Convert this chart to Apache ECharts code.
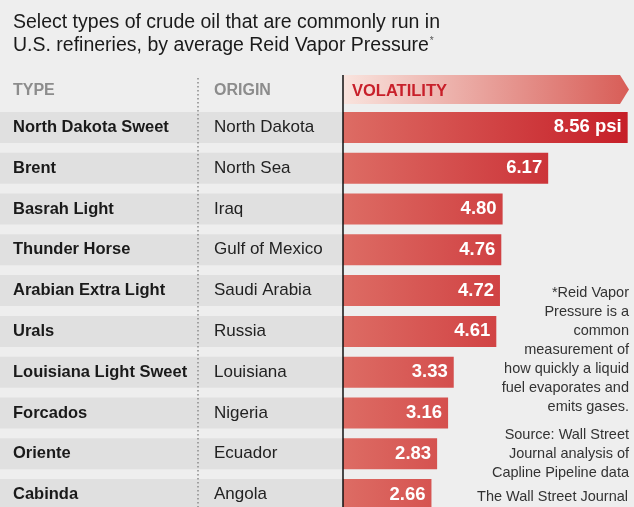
<!DOCTYPE html>
<html>
<head>
<meta charset="utf-8">
<script src="https://cdn.jsdelivr.net/npm/echarts@6/dist/echarts.min.js"></script>
<style>
  html, body { margin: 0; padding: 0; background: #eeeeee; }
  #chart { width: 634px; height: 507px; }
</style>
</head>
<body>
<div id="chart"></div>
<script>
const crudeTypes = [
  'North Dakota Sweet', 'Brent', 'Basrah Light', 'Thunder Horse', 'Arabian Extra Light',
  'Urals', 'Louisiana Light Sweet', 'Forcados', 'Oriente', 'Cabinda',
]
const origins = [
  'North Dakota', 'North Sea', 'Iraq', 'Gulf of Mexico', 'Saudi Arabia',
  'Russia', 'Louisiana', 'Nigeria', 'Ecuador', 'Angola',
]
const rvp = [8.56, 6.17, 4.80, 4.76, 4.72, 4.61, 3.33, 3.16, 2.83, 2.66]

const titleLines = ['Select types of crude oil that are commonly run in', 'U.S. refineries, by average Reid Vapor Pressure']
const noteLines = ['*Reid Vapor', 'Pressure is a', 'common', 'measurement of', 'how quickly a liquid', 'fuel evaporates and', 'emits gases.']
const sourceLines = ['Source: Wall Street', 'Journal analysis of', 'Capline Pipeline data']
const credit = 'The Wall Street Journal'

const FONT = '"Liberation Sans", Arial, sans-serif'
const AXIS_X = 343
const TOP = 107
const BOTTOM = -8 // last row runs off the bottom edge

// bars share one light-to-dark ramp, so short bars stay lighter at their tip
const LIGHT = [221, 108, 100]
const DARK = [198, 31, 40]
function mix(t) {
  const c = LIGHT.map((l, k) => Math.round(l + (DARK[k] - l) * t))
  return `rgb(${c.join(',')})`
}
const maxRvp = Math.max(...rvp)

const chart = echarts.init(document.getElementById('chart'), null, { renderer: 'canvas' })

chart.setOption({
  backgroundColor: '#eeeeee',
  animation: false,
  textStyle: { fontFamily: FONT },
  grid: [
    { left: 0, width: AXIS_X, top: TOP, bottom: BOTTOM, outerBoundsMode: 'none' },
    { left: AXIS_X, right: 5, top: TOP, bottom: BOTTOM, outerBoundsMode: 'none' },
  ],
  xAxis: [
    { gridIndex: 0, type: 'value', min: 0, max: 1, show: false },
    { gridIndex: 1, type: 'value', min: 0, max: 8.6, show: false },
  ],
  yAxis: [
    {
      gridIndex: 0,
      type: 'category',
      inverse: true,
      data: crudeTypes,
      z: 10,
      axisLine: { show: false },
      axisTick: { show: false },
      splitLine: { show: false },
      axisLabel: {
        inside: true,
        margin: 13,
        formatter: (v, i) => `{t|${v}}{o|${origins[i]}}`,
        rich: {
          t: { width: 201, fontFamily: FONT, fontSize: 16.5, fontWeight: 'bold', color: '#1a1a1a' },
          o: { fontFamily: FONT, fontSize: 17, color: '#222' },
        },
      },
    },
    {
      gridIndex: 1,
      type: 'category',
      inverse: true,
      data: crudeTypes,
      show: false,
    },
  ],
  series: [
    {
      // grey row bands behind the type / origin columns
      type: 'bar',
      xAxisIndex: 0,
      yAxisIndex: 0,
      data: crudeTypes.map(() => 0),
      barWidth: 31,
      silent: true,
      z: 0,
      showBackground: true,
      backgroundStyle: { color: '#e0e0e0' },
    },
    {
      name: 'Volatility',
      type: 'bar',
      xAxisIndex: 1,
      yAxisIndex: 1,
      barWidth: 31,
      data: rvp.map((v) => ({
        value: v,
        itemStyle: {
          color: new echarts.graphic.LinearGradient(0, 0, 1, 0, [
            { offset: 0, color: mix(0) },
            { offset: 1, color: mix(v / maxRvp) },
          ]),
        },
      })),
      label: {
        show: true,
        position: 'insideRight',
        distance: 6,
        color: '#fff',
        fontFamily: FONT,
        fontSize: 18.5,
        fontWeight: 'bold',
        formatter: (p) => (p.dataIndex === 0 ? `${p.value.toFixed(2)} psi` : p.value.toFixed(2)),
      },
    },
  ],
  graphic: [
    {
      type: 'text',
      left: 13,
      top: 13,
      style: {
        text: titleLines[0],
        font: `19.5px ${FONT}`,
        fill: '#1a1a1a',
      },
    },
    {
      type: 'text',
      left: 13,
      top: 36,
      style: {
        text: `{a|${titleLines[1]}}{s|*}`,
        rich: {
          a: { font: `19.5px ${FONT}`, fill: '#1a1a1a', verticalAlign: 'bottom' },
          s: { font: `10px ${FONT}`, fill: '#555', verticalAlign: 'top', padding: [0, 0, 10, 1] },
        },
      },
    },
    {
      type: 'polygon',
      shape: { points: [[AXIS_X, 75], [620, 75], [629, 89.5], [620, 104], [AXIS_X, 104]] },
      style: {
        fill: new echarts.graphic.LinearGradient(0, 0, 1, 0, [
          { offset: 0, color: '#f9e4de' },
          { offset: 1, color: '#d85d57' },
        ]),
      },
      z: 1,
    },
    {
      type: 'text',
      x: 352, y: 91,
      style: { text: 'VOLATILITY', font: `bold 16.5px ${FONT}`, fill: '#c8202a', textVerticalAlign: 'middle' },
      z: 2,
    },
    {
      type: 'text',
      x: 13, y: 91,
      style: { text: 'TYPE', font: `bold 16px ${FONT}`, fill: '#8c8c8c', textVerticalAlign: 'middle' },
    },
    {
      type: 'text',
      x: 214, y: 91,
      style: { text: 'ORIGIN', font: `bold 16px ${FONT}`, fill: '#8c8c8c', textVerticalAlign: 'middle' },
    },
    {
      type: 'line',
      shape: { x1: 198, y1: 78, x2: 198, y2: 507 },
      style: { stroke: '#8a8a8a', lineWidth: 1.5, lineDash: [1.5, 2.5] },
      z: 20,
    },
    {
      type: 'line',
      shape: { x1: AXIS_X, y1: 75, x2: AXIS_X, y2: 507 },
      style: { stroke: '#111', lineWidth: 1.5 },
      z: 20,
    },
    {
      type: 'text',
      x: 629, y: 283,
      style: {
        text: noteLines.join('\n'),
        font: `14.5px ${FONT}`,
        lineHeight: 19,
        fill: '#333',
        textAlign: 'right',
        textVerticalAlign: 'top',
      },
    },
    {
      type: 'text',
      x: 629, y: 425.5,
      style: {
        text: sourceLines.join('\n'),
        font: `14.5px ${FONT}`,
        lineHeight: 19,
        fill: '#333',
        textAlign: 'right',
        textVerticalAlign: 'top',
      },
    },
    {
      type: 'text',
      x: 628, y: 497,
      style: { text: credit, font: `14.5px ${FONT}`, fill: '#333', textAlign: 'right', textVerticalAlign: 'middle' },
    },
  ],
})
</script>
</body>
</html>
